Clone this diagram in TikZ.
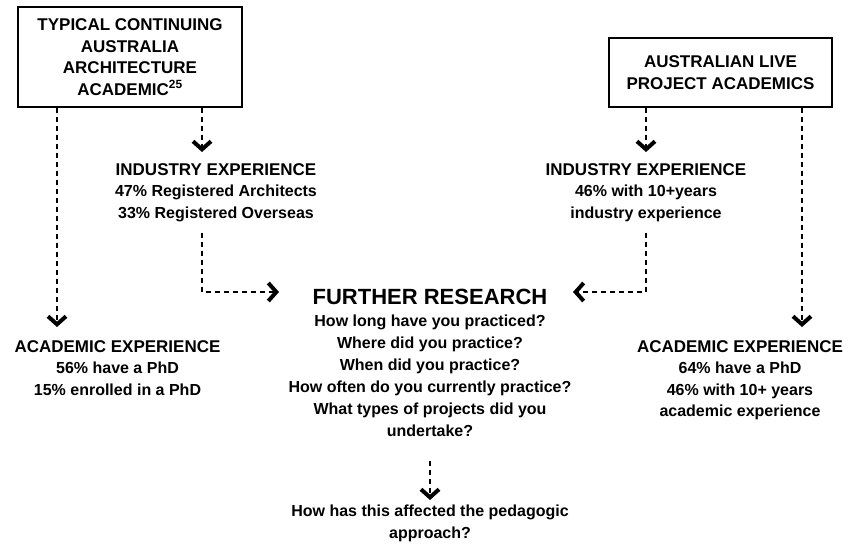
\documentclass[tikz,border=0pt]{standalone}
\usepackage{fontspec}
\setmainfont{Liberation Sans}
\usepackage{tikz}
\usetikzlibrary{arrows.meta,positioning}

\begin{document}
\begin{tikzpicture}[x=1pt,y=-1pt,
  font=\fontsize{16}{21.5}\selectfont\bfseries,
  box/.style={draw,line width=1.4pt,align=center,inner sep=0pt,
    font=\fontsize{17}{21.5}\selectfont\bfseries},
  info/.style={align=center,inner sep=0pt,anchor=north},
  link/.style={dash pattern=on 5pt off 4pt,line width=1.1pt,
    -{Straight Barb[length=8pt,width=18pt,line width=4pt]}}]
\useasboundingbox (0,0) rectangle (849,545);
\node[box,minimum width=224pt,minimum height=100pt] (ltop) at (130,57)
  {TYPICAL CONTINUING\\AUSTRALIA\\ARCHITECTURE\\ACADEMIC\textsuperscript{25}};
\node[box,minimum width=223pt,minimum height=69pt] (rtop) at (720.5,72.5)
  {AUSTRALIAN LIVE\\PROJECT ACADEMICS};
\node[info] (lind) at (216,163)
  {{\fontsize{17}{21.5}\selectfont INDUSTRY EXPERIENCE}\\47\% Registered Architects\\33\% Registered Overseas};
\node[info] (rind) at (646,163)
  {{\fontsize{17}{21.5}\selectfont INDUSTRY EXPERIENCE}\\46\% with 10+years\\industry experience};
\node[info,font=\fontsize{16}{22}\selectfont\bfseries] (further) at (430,289)
  {{\fontsize{22}{22}\selectfont FURTHER RESEARCH}\\How long have you practiced?\\Where did you practice?\\When did you practice?\\How often do you currently practice?\\What types of projects did you\\undertake?};
\node[info] (lacad) at (117.5,340)
  {{\fontsize{17}{21.5}\selectfont ACADEMIC EXPERIENCE}\\56\% have a PhD\\15\% enrolled in a PhD};
\node[info] (racad) at (740,340)
  {{\fontsize{17}{21.5}\selectfont ACADEMIC EXPERIENCE}\\64\% have a PhD\\46\% with 10+ years\\academic experience};
\node[info] (effect) at (430,505)
  {How has this affected the pedagogic\\approach?};
% top boxes down to the experience blocks
\draw[link] ([xshift=-73pt]ltop.south) -- ([xshift=-60.5pt,yshift=13pt]lacad.north);
\draw[link] ([xshift=72pt]ltop.south) -- ([xshift=-14pt,yshift=11pt]lind.north);
\draw[link] ([xshift=-74.5pt]rtop.south) -- ([yshift=11pt]rind.north);
\draw[link] ([xshift=81.5pt]rtop.south) -- ([xshift=62pt,yshift=13pt]racad.north);
% industry into further research
\draw[link] ([xshift=-14pt,yshift=-11pt]lind.south) |- ([xshift=-151pt,yshift=-3pt]further.north);
\draw[link] ([yshift=-11pt]rind.south) |- ([xshift=143pt,yshift=-3pt]further.north);
\draw[link] ([yshift=-24pt]further.south) -- ([yshift=5pt]effect.north);
\end{tikzpicture}
\end{document}
